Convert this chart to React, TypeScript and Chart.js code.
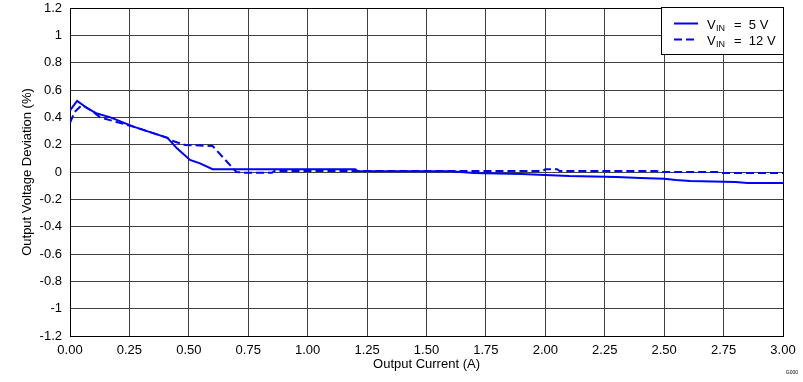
import React, { useEffect, useRef } from "react";
import { Chart, registerables } from "chart.js";

Chart.register(...registerables);

// Output current (A) and output voltage deviation (%) for VIN = 5 V
const current5V = [0, 0.03, 0.07, 0.11, 0.17, 0.27, 0.41, 0.45, 0.505, 0.547, 0.6, 1.2, 1.21, 1.6, 1.7, 1.9, 2.0, 2.1, 2.3, 2.4, 2.5, 2.55, 2.61, 2.8, 2.85, 3.0];
const deviation5V = [0.45, 0.52, 0.47, 0.43, 0.4, 0.33, 0.25, 0.173, 0.088, 0.063, 0.02, 0.02, 0.007, 0.005, -0.007, -0.015, -0.022, -0.03, -0.037, -0.044, -0.05, -0.059, -0.066, -0.073, -0.08, -0.08];

// VIN = 12 V
const current12V = [0, 0.02, 0.05, 0.09, 0.126, 0.27, 0.41, 0.42, 0.484, 0.6, 0.7, 0.73, 0.85, 0.86, 1.99, 2.0, 2.05, 2.06, 2.47, 2.48, 2.73, 2.74, 3.0];
const deviation12V = [0.36, 0.44, 0.49, 0.45, 0.4, 0.33, 0.25, 0.234, 0.198, 0.19, 0.0, -0.005, -0.005, 0.008, 0.008, 0.02, 0.02, 0.007, 0.007, 0.0, 0.0, -0.007, -0.007];

const xTitle = "Output Current (A)";
const yTitle = "Output Voltage Deviation (%)";
const legendLabels = ["5 V", "12 V"];
const footnote = "G000";

const FONT = "'Liberation Sans', Arial, sans-serif";

const legendPlugin = {
  id: "customLegend",
  afterDraw(chart: any) {
    const ctx = chart.ctx as CanvasRenderingContext2D;
    ctx.save();
    const bx = 661.5, by = 7.5, bw = 122, bh = 47;
    ctx.fillStyle = "#ffffff";
    ctx.fillRect(bx, by, bw, bh);
    ctx.strokeStyle = "#000000";
    ctx.lineWidth = 1;
    ctx.strokeRect(bx, by, bw, bh);
    const rows = [
      { y: 23.5, dash: [] as number[], label: legendLabels[0] },
      { y: 39.5, dash: [8, 4], label: legendLabels[1] },
    ];
    rows.forEach((r) => {
      ctx.strokeStyle = "#0000ff";
      ctx.lineWidth = 2;
      ctx.setLineDash(r.dash);
      ctx.beginPath();
      ctx.moveTo(674, r.y);
      ctx.lineTo(698, r.y);
      ctx.stroke();
      ctx.setLineDash([]);
      ctx.fillStyle = "#000000";
      ctx.textBaseline = "alphabetic";
      ctx.textAlign = "left";
      ctx.font = `13px ${FONT}`;
      ctx.fillText("V", 707, r.y + 5);
      ctx.font = `9px ${FONT}`;
      ctx.fillText("IN", 716, r.y + 7);
      ctx.font = `13px ${FONT}`;
      ctx.fillText("=  " + r.label, 734, r.y + 5);
    });
    ctx.font = `5px ${FONT}`;
    ctx.fillStyle = "#000000";
    ctx.textAlign = "right";
    ctx.fillText(footnote, 798, 374);
    ctx.restore();
  },
};

export default function App() {
  const canvasRef = useRef<HTMLCanvasElement | null>(null);

  useEffect(() => {
    document.body.style.margin = "0";
    const canvas = canvasRef.current;
    if (!canvas) return;
    const chart = new Chart(canvas, {
      type: "line",
      data: {
        datasets: [
          {
            label: "VIN = 5 V",
            data: current5V.map((x, i) => ({ x, y: deviation5V[i] })),
            borderColor: "#0000ff",
            borderWidth: 2,
            pointRadius: 0,
            tension: 0,
            fill: false,
          },
          {
            label: "VIN = 12 V",
            data: current12V.map((x, i) => ({ x, y: deviation12V[i] })),
            borderColor: "#0000ff",
            borderWidth: 2,
            borderDash: [8, 4],
            pointRadius: 0,
            tension: 0,
            fill: false,
          },
        ],
      },
      options: {
        responsive: false,
        animation: false,
        layout: { padding: { top: 8, right: 20, left: 0, bottom: 0 } },
        plugins: {
          legend: { display: false },
          tooltip: { enabled: false },
        },
        scales: {
          x: {
            type: "linear",
            min: 0,
            max: 3,
            afterFit: (s: any) => {
              s.height = 46;
              s.paddingLeft = 0;
              s.paddingRight = 0;
            },
            ticks: {
              stepSize: 0.25,
              color: "#000000",
              padding: 7,
              maxRotation: 0,
              autoSkip: false,
              font: { family: FONT, size: 13 },
              callback: (v: any) => Number(v).toFixed(2),
            },
            grid: {
              drawTicks: false,
              color: (c: any) => (c.tick && Math.abs(c.tick.value - 3) < 1e-6 ? "#000000" : "#404040"),
              lineWidth: 1,
            },
            border: { color: "#000000", width: 1 },
            title: {
              display: true,
              text: xTitle,
              color: "#000000",
              font: { family: FONT, size: 13 },
              padding: { top: 0, bottom: 10 },
            },
          },
          y: {
            type: "linear",
            min: -1.2,
            max: 1.2,
            afterFit: (s: any) => {
              s.width = 70;
              s.paddingTop = 0;
              s.paddingBottom = 0;
            },
            ticks: {
              stepSize: 0.2,
              color: "#000000",
              padding: 8,
              autoSkip: false,
              font: { family: FONT, size: 13 },
              callback: (v: any) => String(Number(Number(v).toFixed(1))),
            },
            grid: {
              drawTicks: false,
              color: (c: any) => (c.tick && Math.abs(c.tick.value - 1.2) < 1e-6 ? "#000000" : "#404040"),
              lineWidth: 1,
            },
            border: { color: "#000000", width: 1 },
            title: {
              display: true,
              text: yTitle,
              color: "#000000",
              font: { family: FONT, size: 13 },
              padding: { top: 20, bottom: 0 },
            },
          },
        },
      },
      plugins: [legendPlugin],
    });
    return () => chart.destroy();
  }, []);

  return (
    <div style={{ position: "absolute", left: 0, top: 0, width: 803, height: 382 }}>
      <canvas ref={canvasRef} width={803} height={382} />
    </div>
  );
}
